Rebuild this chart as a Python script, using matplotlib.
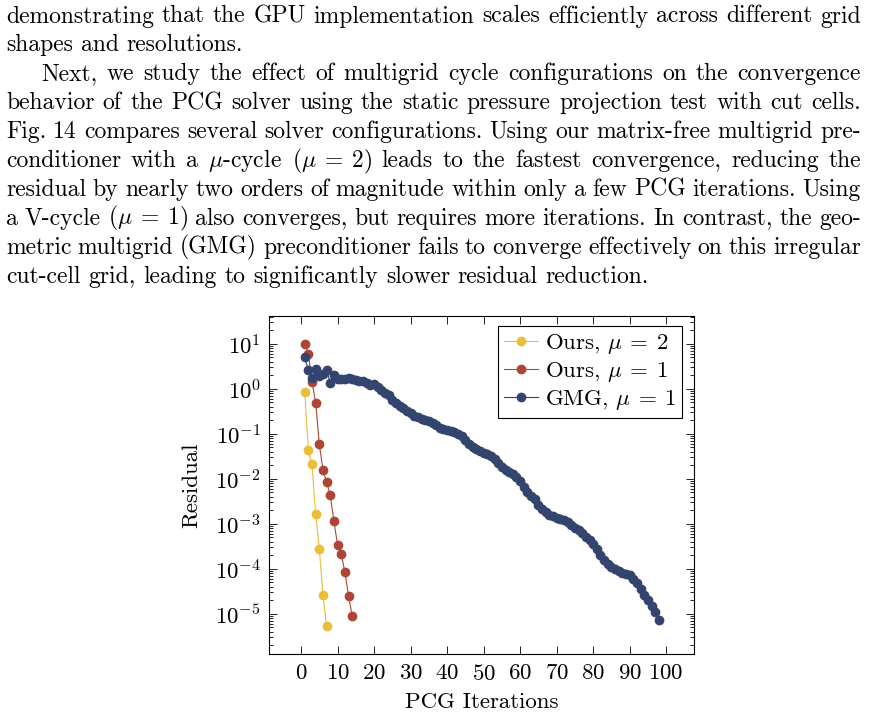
import re
import numpy as np
import matplotlib
matplotlib.use('Agg')
import matplotlib.pyplot as plt
from matplotlib.ticker import LogLocator, MultipleLocator, NullFormatter

plt.rcParams['font.family'] = 'serif'
plt.rcParams['font.serif'] = ['cmr10']
plt.rcParams['mathtext.fontset'] = 'cm'
plt.rcParams['axes.formatter.use_mathtext'] = True

# residual per PCG iteration
res_ours2 = [0.85, 0.043, 0.021, 0.00167, 2.8e-4, 2.6e-5, 5.4e-6]
res_ours1 = [10.0, 6.0, 1.45, 0.49, 0.059, 0.016, 0.0085, 0.0044, 0.00114,
             3.4e-4, 2.1e-4, 8.7e-5, 2.5e-5, 9.1e-6]
res_gmg = [5.0, 2.6, 1.74, 2.75, 1.95, 2.14, 2.63, 1.35, 2.04, 1.70,
           1.70, 1.62, 1.74, 1.62, 1.58, 1.51, 1.48, 1.38, 1.20, 1.26,
           1.12, 0.95, 0.83, 0.74, 0.575, 0.48, 0.41, 0.37, 0.316, 0.288,
           0.251, 0.234, 0.219, 0.204, 0.191, 0.174, 0.158, 0.138, 0.129, 0.123,
           0.115, 0.110, 0.100, 0.091, 0.072, 0.060, 0.052, 0.047, 0.042, 0.038,
           0.0355, 0.0331, 0.0282, 0.0224, 0.0182, 0.0158, 0.0141, 0.0126, 0.0110, 0.0089,
           0.0066, 0.0050, 0.0042, 0.0035, 0.0026, 0.0021, 0.00182, 0.00162, 0.00148, 0.00138,
           0.00132, 0.00123, 0.00110, 0.00095, 0.00083, 0.00072, 0.00063, 0.00052, 0.00044, 0.00035,
           2.75e-4, 2.0e-4, 1.58e-4, 1.32e-4, 1.12e-4, 1.0e-4, 8.9e-5, 8.3e-5, 7.8e-5, 7.2e-5,
           6.0e-5, 4.8e-5, 3.5e-5, 2.6e-5, 2.0e-5, 1.5e-5, 1.12e-5, 7.4e-6]

labels = [r'Ours, $\mu\:=\:2$', r'Ours, $\mu\:=\:1$', r'GMG, $\mu\:=\:1$']
colors = ['#EABD3B', '#AE4535', '#33456F']

# text of the page around the figure: (line, indent, justified)
page_lines = [
    ("demonstrating that the GPU implementation scales efficiently across different grid", 0, True),
    ("shapes and resolutions.", 0, False),
    ("Next, we study the effect of multigrid cycle configurations on the convergence", 35, True),
    ("behavior of the PCG solver using the static pressure projection test with cut cells.", 0, True),
    ("Fig. 14 compares several solver configurations. Using our matrix-free multigrid pre-", 0, True),
    (r"conditioner with a $\mu$-cycle ($\mu\:=\:2$) leads to the fastest convergence, reducing the", 0, True),
    ("residual by nearly two orders of magnitude within only a few PCG iterations. Using", 0, True),
    (r"a V-cycle ($\mu\:=\:1$) also converges, but requires more iterations. In contrast, the geo-", 0, True),
    ("metric multigrid (GMG) preconditioner fails to converge effectively on this irregular", 0, True),
    ("cut-cell grid, leading to significantly slower residual reduction.", 0, False),
]

W, H = 869, 718
BODY = 17
FS = 16.5
X0, X1 = 6, 861
fig = plt.figure(figsize=(W / 100, H / 100), dpi=100)
renderer = fig.canvas.get_renderer()
space = 0.333 * BODY * 100 / 72


def put_line(line, y, indent, justify):
    words = re.findall(r'(?:\$[^$]*\$|\S)+', line)
    texts, widths = [], []
    for w in words:
        t = fig.text(0, 1 - y / H, w, fontsize=BODY, va='baseline', ha='left')
        widths.append(t.get_window_extent(renderer).width)
        texts.append(t)
    x = X0 + indent
    gap = space
    if justify and len(words) > 1:
        gap = (X1 - x - sum(widths)) / (len(words) - 1)
    for t, w in zip(texts, widths):
        t.set_x(x / W)
        x += w + gap


for i, (line, ind, just) in enumerate(page_lines):
    put_line(line, 22.5 + i * 28.9, ind, just)

# the plot
ax = fig.add_axes([269.3 / W, 1 - 654 / H, 425 / W, 338 / H])
series = [res_ours2, res_ours1, res_gmg]
for res, lab, c in zip(series, labels, colors):
    it = np.arange(1, len(res) + 1)
    ax.plot(it, res, '-o', color=c, lw=0.8, ms=6, label=lab)

ax.set_yscale('log')
ax.set_xlim(-8.7, 107.7)
ax.set_ylim(10 ** -5.89, 10 ** 1.62)
ax.xaxis.set_major_locator(MultipleLocator(10))
ax.yaxis.set_major_locator(LogLocator(base=10, numticks=20))
ax.yaxis.set_minor_locator(LogLocator(base=10, subs=np.arange(2, 10), numticks=20))
ax.yaxis.set_minor_formatter(NullFormatter())
ax.tick_params(which='both', direction='in', top=True, right=True, width=0.6, labelsize=FS)
ax.tick_params(which='major', length=5.5)
ax.tick_params(which='minor', length=3)
ax.tick_params(axis='y', pad=6)
ax.tick_params(axis='x', pad=7)
for s in ax.spines.values():
    s.set_linewidth(0.8)

ax.set_xlabel('PCG Iterations', fontsize=FS)
ax.set_ylabel('Residual', fontsize=FS)
ax.xaxis.set_label_coords(0.5, -0.115)
ax.yaxis.set_label_coords(-0.16, 0.5)

leg = ax.legend(loc='upper right', bbox_to_anchor=(0.971, 0.970), borderaxespad=0,
                fancybox=False, edgecolor='black', framealpha=1, fontsize=FS,
                handlelength=1.5, handletextpad=0.3, borderpad=0.25, labelspacing=0.18)
leg.get_frame().set_linewidth(0.8)

fig.savefig('out.png', dpi=100)
